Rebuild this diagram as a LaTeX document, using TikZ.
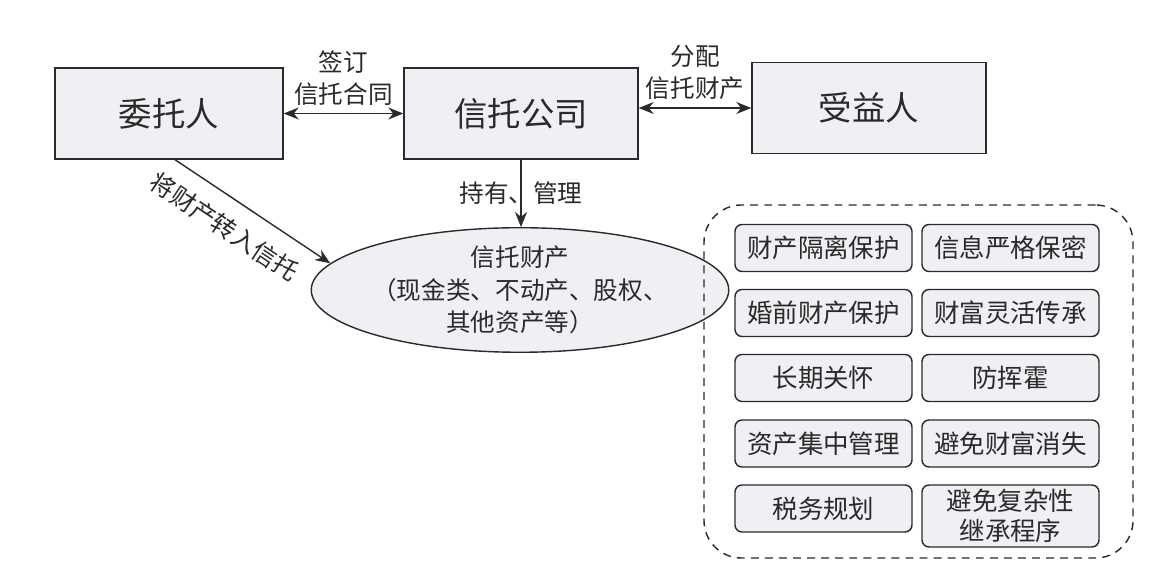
\documentclass[tikz,border=0pt]{standalone}
\usepackage{fontspec}
\setmainfont{Noto Sans CJK SC}
\usetikzlibrary{arrows.meta,positioning,shapes.geometric}
\definecolor{ink}{HTML}{2A2A2A}
\definecolor{boxbg}{HTML}{EEF0F3}
\tikzset{
  bigbox/.style={draw=ink,fill=boxbg,line width=0.8pt,minimum height=1.82cm,
                 inner sep=2pt,font=\fontsize{19}{22}\selectfont,text=ink},
  smallbox/.style={draw=ink,fill=boxbg,line width=0.8pt,rounded corners=4pt,
                   minimum width=3.54cm,minimum height=0.94cm,inner sep=1pt,
                   align=center,font=\fontsize{14.5}{17}\selectfont,text=ink},
  ovalbox/.style={ellipse,draw=ink,fill=boxbg,line width=0.8pt,
                  minimum width=8.28cm,minimum height=2.32cm,inner sep=0pt,
                  align=center,font=\fontsize{14}{18.5}\selectfont,text=ink},
  dashframe/.style={draw=ink,line width=0.8pt,dash pattern=on 4.5pt off 3.5pt,
                    rounded corners=0.75cm,minimum width=8.58cm,minimum height=7.06cm},
  lbl/.style={font=\fontsize{14}{18}\selectfont,align=center,text=ink},
  twoarr/.style={{Stealth[length=3mm,width=2.4mm]}-{Stealth[length=3mm,width=2.4mm]},
                 line width=0.8pt,draw=ink},
  onearr/.style={-{Stealth[length=3mm,width=2.4mm]},line width=0.8pt,draw=ink}
}
\begin{document}
\begin{tikzpicture}[x=1cm,y=1cm]
  \path[use as bounding box,fill=white] (0,0) rectangle (23.14,-11.5);
  % top row
  \node[bigbox,minimum width=4.56cm] (weituo) at (3.38,-2.27) {委托人};
  \node[bigbox,minimum width=4.68cm] (gongsi) at (10.42,-2.27) {信托公司};
  \node[bigbox,minimum width=4.68cm] (shouyi) at (17.38,-2.16) {受益人};
  \node[ovalbox] (caichan) at (10.40,-5.80)
    {信托财产\\（现金类、不动产、股权、\\其他资产等）};
  \draw[twoarr] (weituo.east) -- (gongsi.west)
    node[midway,above=1pt,lbl] {签订\\信托合同};
  \draw[twoarr] (gongsi.east |- shouyi.west) -- (shouyi.west)
    node[midway,above=1pt,lbl] {分配\\信托财产};
  \draw[onearr] (gongsi.south) -- (gongsi.south |- caichan.north)
    node[midway,lbl] {持有、管理};
  \draw[onearr] ([xshift=0.12cm]weituo.south) -- (caichan.172)
    node[pos=0.42,sloped,below=6pt,lbl] {将财产转入信托};
  % advantages
  \node[smallbox] (b1) at (16.47,-4.96) {财产隔离保护};
  \node[smallbox] (b2) at (20.21,-4.96) {信息严格保密};
  \node[smallbox] (b3) at (16.47,-6.26) {婚前财产保护};
  \node[smallbox] (b4) at (20.21,-6.26) {财富灵活传承};
  \node[smallbox] (b5) at (16.47,-7.56) {长期关怀};
  \node[smallbox] (b6) at (20.21,-7.56) {防挥霍};
  \node[smallbox] (b7) at (16.47,-8.87) {资产集中管理};
  \node[smallbox] (b8) at (20.21,-8.87) {避免财富消失};
  \node[smallbox] (b9) at (16.47,-10.17) {税务规划};
  \node[smallbox,minimum height=1.24cm] (b10) at (20.21,-10.32)
    {避免复杂性\\继承程序};
  \node[dashframe] (youshi) at (18.37,-7.63) {};
\end{tikzpicture}
\end{document}
